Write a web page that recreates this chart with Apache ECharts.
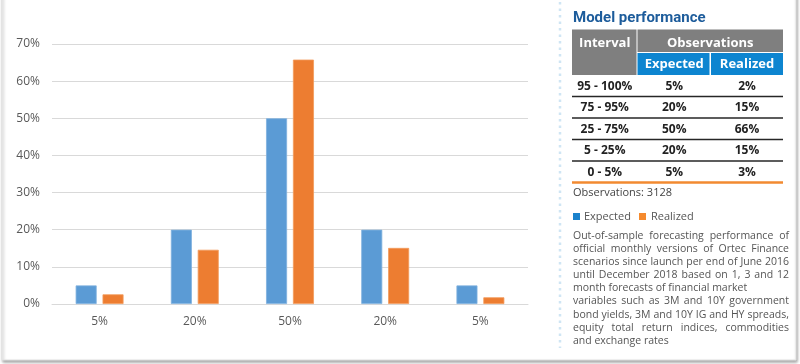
<!DOCTYPE html>
<html><head><meta charset="utf-8">
<script src="https://cdn.jsdelivr.net/npm/echarts@6/dist/echarts.min.js"></script>
<style>html,body{margin:0;padding:0;background:#fff}#c{width:800px;height:364px}</style>
</head><body><div id="c"></div>
<script>
// ---- data ----
const categories = ['5%', '20%', '50%', '20%', '5%'];
const expected = [5, 20, 50, 20, 5];
const realized = [2.6, 14.6, 65.8, 15.1, 1.8];
const yMax = 70, yStep = 10;
const seriesNames = ['Expected', 'Realized'];

const tableTitle = 'Model performance';
const headerInterval = 'Interval';
const headerObs = 'Observations';
const intervals = ['95 - 100%', '75 - 95%', '25 - 75%', '5 - 25%', '0 - 5%'];
const tableExpected = ['5%', '20%', '50%', '20%', '5%'];
const tableRealized = ['2%', '15%', '66%', '15%', '3%'];
const observationsText = 'Observations: 3128';
const paragraphLines = [
  'Out-of-sample forecasting performance of',
  'official monthly versions of Ortec Finance',
  'scenarios since launch per end of June 2016',
  'until December 2018 based on 1, 3 and 12',
  'month forecasts of financial market',
  'variables such as 3M and 10Y government',
  'bond yields, 3M and 10Y IG and HY spreads,',
  'equity total return indices, commodities',
  'and exchange rates'
];
const justified = [true, true, true, true, false, true, true, true, false];

// ---- styles ----
const BAR_BLUE = '#5b9bd5', BAR_ORANGE = '#ed7d31';
const HDR_GRAY = '#7f7f7f', HDR_BLUE = '#0d85d0';
const LEG_BLUE = '#1b82cc', LEG_ORANGE = '#f58a2e';
const FONT = '"Open Sans", "Noto Sans", sans-serif';

const ctx = document.createElement('canvas').getContext('2d');
function measure(t, font) { ctx.font = font; return ctx.measureText(t).width; }

const g = [];
// panel box with shadow
g.push({ type: 'rect', silent: true, z: -10, shape: { x: 2, y: -6, width: 794, height: 366 },
  style: { fill: '#fff', stroke: '#e2e2e2', lineWidth: 1, shadowColor: 'rgba(0,0,0,0.35)', shadowBlur: 3, shadowOffsetX: 1, shadowOffsetY: 2 } });
// dotted separator
g.push({ type: 'line', silent: true, shape: { x1: 560, y1: 2, x2: 560, y2: 348 },
  style: { stroke: '#cfe5f4', lineWidth: 2.5, lineDash: [2.5, 4] } });

// title
g.push({ type: 'text', x: 573, y: 18, style: { text: tableTitle, font: 'bold 15px Roboto, "Open Sans", sans-serif', fill: '#1d5c9b', align: 'left', verticalAlign: 'middle' } });

// table header
const colX = [572, 637.5, 711, 783];
g.push({ type: 'rect', shape: { x: colX[0], y: 29.5, width: colX[1] - colX[0] - 1, height: 45.5 }, style: { fill: HDR_GRAY } });
g.push({ type: 'rect', shape: { x: colX[1], y: 29.5, width: colX[3] - colX[1], height: 22.5 }, style: { fill: HDR_GRAY } });
g.push({ type: 'rect', shape: { x: colX[1], y: 53, width: colX[2] - colX[1] - 1.5, height: 22 }, style: { fill: HDR_BLUE } });
g.push({ type: 'rect', shape: { x: colX[2], y: 53, width: colX[3] - colX[2], height: 22 }, style: { fill: HDR_BLUE } });
const hFont = 'bold 13px ' + FONT;
g.push({ type: 'text', x: (colX[0] + colX[1]) / 2, y: 43, style: { text: headerInterval, font: hFont, fill: '#fff', align: 'center', verticalAlign: 'middle' } });
g.push({ type: 'text', x: (colX[1] + colX[3]) / 2, y: 43, style: { text: headerObs, font: hFont, fill: '#fff', align: 'center', verticalAlign: 'middle' } });
g.push({ type: 'text', x: (colX[1] + colX[2]) / 2, y: 64.5, style: { text: seriesNames[0], font: hFont, fill: '#fff', align: 'center', verticalAlign: 'middle' } });
g.push({ type: 'text', x: (colX[2] + colX[3]) / 2, y: 64.5, style: { text: seriesNames[1], font: hFont, fill: '#fff', align: 'center', verticalAlign: 'middle' } });

// table rows
const rowTop = 75, rowH = 21.5;
const cFont = 'bold 12px ' + FONT;
intervals.forEach((iv, i) => {
  const cy = rowTop + i * rowH + 11.5;
  const cols = [iv, tableExpected[i], tableRealized[i]];
  cols.forEach((t, j) => {
    g.push({ type: 'text', x: (colX[j] + colX[j + 1]) / 2, y: cy, style: { text: t, font: cFont, fill: '#222', align: 'center', verticalAlign: 'middle' } });
  });
  const ly = rowTop + (i + 1) * rowH;
  const last = i === intervals.length - 1;
  g.push({ type: 'line', shape: { x1: colX[0], y1: ly, x2: colX[3], y2: ly },
    style: { stroke: last ? '#f28a30' : '#262626', lineWidth: last ? 2.5 : 1.5 } });
});

// observations
g.push({ type: 'text', x: 573, y: 193, style: { text: observationsText, font: '11px ' + FONT, fill: '#444', align: 'left', verticalAlign: 'middle' } });

// legend
g.push({ type: 'rect', shape: { x: 573, y: 213, width: 7, height: 7 }, style: { fill: LEG_BLUE } });
g.push({ type: 'text', x: 584, y: 216.5, style: { text: seriesNames[0], font: '11px ' + FONT, fill: '#555', align: 'left', verticalAlign: 'middle' } });
g.push({ type: 'rect', shape: { x: 639, y: 213, width: 7, height: 7 }, style: { fill: LEG_ORANGE } });
g.push({ type: 'text', x: 651, y: 216.5, style: { text: seriesNames[1], font: '11px ' + FONT, fill: '#555', align: 'left', verticalAlign: 'middle' } });

// paragraph (justified)
const pX = 573, pW = 216, pY0 = 236, pStep = 13.1;
let pSize = 11;
{
  let maxW = 0;
  paragraphLines.forEach(l => { maxW = Math.max(maxW, measure(l, pSize + 'px ' + FONT)); });
  if (maxW > pW) pSize = Math.floor(pSize * pW / maxW * 10) / 10;
}
const pFont = pSize + 'px ' + FONT;
const spaceW = measure(' ', pFont);
paragraphLines.forEach((line, i) => {
  const words = line.split(' ');
  const ws = words.map(w => measure(w, pFont));
  const sum = ws.reduce((a, b) => a + b, 0);
  const gap = (justified[i] && words.length > 1) ? (pW - sum) / (words.length - 1) : spaceW;
  let x = pX;
  const y = pY0 + i * pStep;
  words.forEach((w, k) => {
    g.push({ type: 'text', x: x, y: y, style: { text: w, font: pFont, fill: '#555', align: 'left', verticalAlign: 'middle' } });
    x += ws[k] + gap;
  });
});

const chart = echarts.init(document.getElementById('c'), null, { renderer: 'canvas' });
chart.setOption({
  animation: false,
  backgroundColor: 'transparent',
  grid: { left: 52, right: 272, top: 44, bottom: 60, containLabel: false },
  xAxis: {
    type: 'category', data: categories,
    axisLine: { lineStyle: { color: '#d9d9d9', width: 1 } },
    axisTick: { show: false },
    axisLabel: { color: '#595959', fontSize: 12, fontFamily: FONT, margin: 12 }
  },
  yAxis: {
    type: 'value', min: 0, max: yMax, interval: yStep,
    axisLine: { show: false }, axisTick: { show: false },
    axisLabel: { formatter: '{value}%', color: '#595959', fontSize: 12, fontFamily: FONT, margin: 12 },
    splitLine: { lineStyle: { color: '#d9d9d9', width: 1 } }
  },
  series: [
    { name: seriesNames[0], type: 'bar', data: expected, barWidth: 21, barGap: '28%',
      itemStyle: { color: BAR_BLUE, borderColor: '#7fb1de', borderWidth: 0.8 } },
    { name: seriesNames[1], type: 'bar', data: realized, barWidth: 21, barGap: '28%',
      itemStyle: { color: BAR_ORANGE, borderColor: '#f39a5c', borderWidth: 0.8 } }
  ],
  graphic: g
});
</script>
</body></html>
